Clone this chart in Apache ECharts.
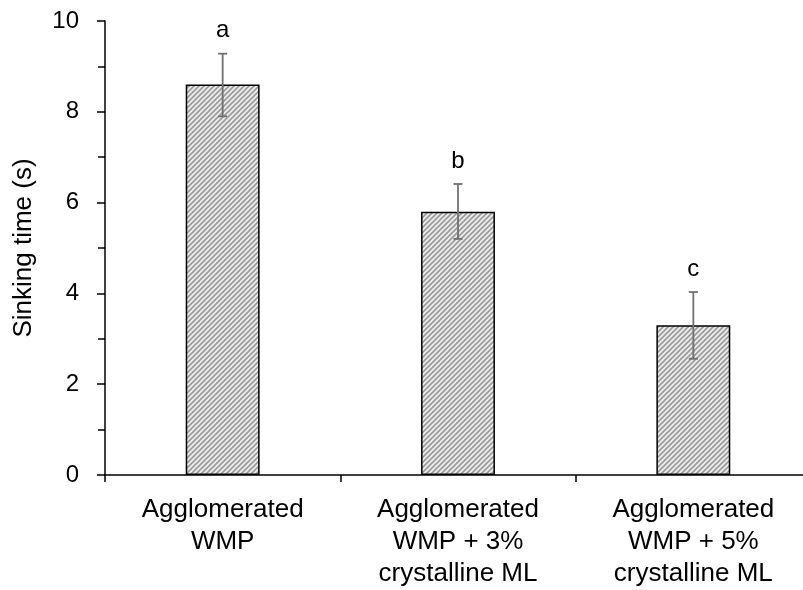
<!DOCTYPE html>
<html>
<head>
<meta charset="utf-8">
<script src="https://cdn.jsdelivr.net/npm/echarts@6/dist/echarts.min.js"></script>
<style>
  html, body { margin: 0; padding: 0; background: #fff; }
</style>
</head>
<body>
<div id="myChart" style="width: 803px; height: 590px"></div>
<script>
// data
const categories = ["Agglomerated\nWMP", "Agglomerated\nWMP + 3%\ncrystalline ML", "Agglomerated\nWMP + 5%\ncrystalline ML"];
const sinkTime = [8.6, 5.8, 3.3];
const errLow = [7.9, 5.2, 2.56];
const errHigh = [9.28, 6.41, 4.03];
const letters = ["a", "b", "c"];

// hatch pattern for bars
function makeHatch() {
  const c = document.createElement("canvas");
  c.width = 5; c.height = 5;
  const ctx = c.getContext("2d");
  ctx.fillStyle = "#ececec";
  ctx.fillRect(0, 0, 5, 5);
  ctx.strokeStyle = "#9a9a9a";
  ctx.lineWidth = 1.6;
  ctx.beginPath();
  ctx.moveTo(-1, 6); ctx.lineTo(6, -1);
  ctx.moveTo(-1, 1); ctx.lineTo(1, -1);
  ctx.moveTo(4, 6); ctx.lineTo(6, 4);
  ctx.stroke();
  return c;
}

const font = "Liberation Sans, Arial, sans-serif";
let myChart = echarts.init(document.getElementById("myChart"));

myChart.setOption({
  animation: false,
  grid: { left: 105, right: -8, top: 21, bottom: 115, outerBoundsMode: "none" },
  xAxis: {
    type: "category",
    data: categories,
    axisLine: { lineStyle: { color: "#000", width: 1.5 } },
    axisTick: { show: true, length: 7, lineStyle: { color: "#000", width: 1.5 } },
    axisLabel: { color: "#000", fontSize: 26, fontFamily: font, lineHeight: 32, margin: 19 }
  },
  yAxis: {
    type: "value",
    min: 0, max: 10, interval: 2,
    name: "Sinking time (s)",
    nameLocation: "middle",
    nameGap: 68,
    nameTextStyle: { color: "#000", fontSize: 26, fontFamily: font },
    axisLine: { show: true, lineStyle: { color: "#000", width: 1.5 } },
    axisTick: { show: true, length: 8, lineStyle: { color: "#000", width: 1.5 } },
    minorTick: { show: true, splitNumber: 2, length: 7, lineStyle: { color: "#000", width: 1.5 } },
    splitLine: { show: false },
    axisLabel: { color: "#000", fontSize: 24, fontFamily: font, margin: 26 }
  },
  series: [
    {
      type: "bar",
      data: sinkTime,
      barWidth: "31.4%",
      itemStyle: {
        color: { image: makeHatch(), repeat: "repeat" },
        borderColor: "#000",
        borderWidth: 1.5
      },
      z: 2
    },
    {
      type: "custom",
      data: errLow.map((v, i) => [i, v, errHigh[i]]),
      z: 3,
      renderItem: function (params, api) {
        const i = api.value(0);
        const lo = api.coord([i, api.value(1)]);
        const hi = api.coord([i, api.value(2)]);
        const hw = 4.5;
        const style = { stroke: "#707070", lineWidth: 1.8 };
        return {
          type: "group",
          children: [
            { type: "line", shape: { x1: lo[0], y1: lo[1], x2: hi[0], y2: hi[1] }, style: style },
            { type: "line", shape: { x1: lo[0] - hw, y1: lo[1], x2: lo[0] + hw, y2: lo[1] }, style: style },
            { type: "line", shape: { x1: hi[0] - hw, y1: hi[1], x2: hi[0] + hw, y2: hi[1] }, style: style },
            {
              type: "text",
              x: hi[0], y: hi[1] - 11,
              style: {
                text: letters[params.dataIndex],
                fill: "#000",
                font: "24px " + font,
                textAlign: "center",
                textVerticalAlign: "bottom"
              }
            }
          ]
        };
      }
    }
  ]
});
</script>
</body>
</html>
